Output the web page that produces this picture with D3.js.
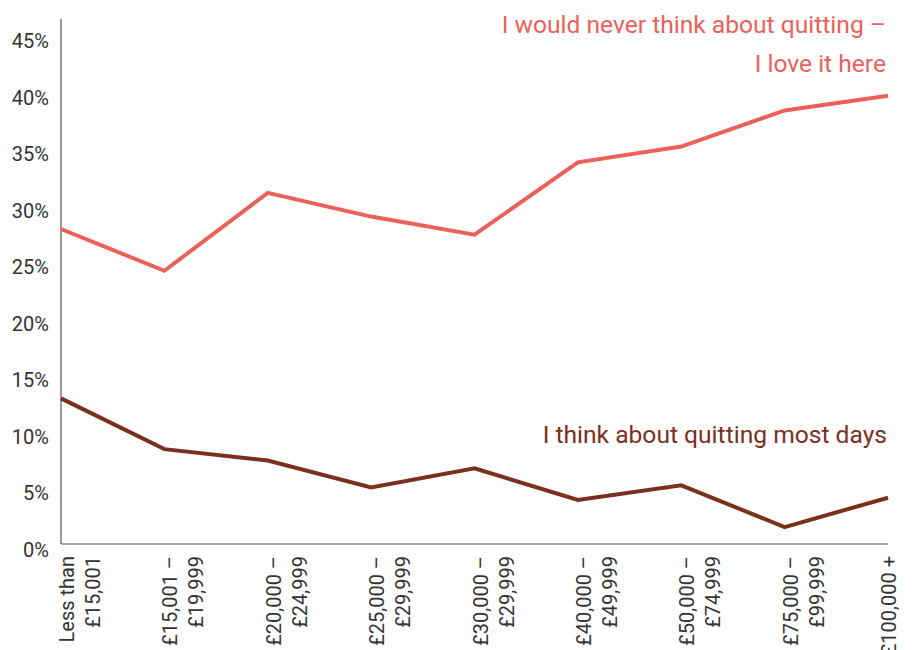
<!DOCTYPE html>
<html>
<head>
<meta charset="utf-8">
<script src="https://cdn.jsdelivr.net/npm/d3@7"></script>
<style>
  body { margin: 0; background: #fff; }
  text { font-family: Roboto, "Noto Sans", sans-serif; }
  .tick text { fill: #333; }
</style>
</head>
<body>
<div id="chart"></div>
<script>
// salary bands (x categories), split into label lines
var bands = [
  ["Less than", "£15,001"],
  ["£15,001 –", "£19,999"],
  ["£20,000 –", "£24,999"],
  ["£25,000 –", "£29,999"],
  ["£30,000 –", "£29,999"],
  ["£40,000 –", "£49,999"],
  ["£50,000 –", "£74,999"],
  ["£75,000 –", "£99,999"],
  ["£100,000 +"]
];

// % of respondents
var neverQuit = [27.9, 24.2, 31.1, 29.0, 27.4, 33.8, 35.2, 38.4, 39.7];
var quitMostDays = [12.9, 8.4, 7.4, 5.0, 6.7, 3.9, 5.2, 1.5, 4.1];

var yTicks = [0, 5, 10, 15, 20, 25, 30, 35, 40, 45];

var seriesNames = ["I would never think about quitting –\nI love it here", "I think about quitting most days"];
var seriesColors = ["#ec605a", "#7a301c"];

var margin = { top: 19, right: 26, bottom: 106, left: 61 },
  width = 914 - margin.left - margin.right,
  height = 650 - margin.top - margin.bottom;

var svg = d3.select("#chart").append("svg")
  .attr("width", 914)
  .attr("height", 650)
  .append("g")
  .attr("transform", "translate(" + margin.left + "," + margin.top + ")");

var x = d3.scalePoint().domain(d3.range(bands.length)).range([0, width]);
var y = d3.scaleLinear().domain([0, 46.5]).range([height, 0]);

// axes (just the two lines + labels)
svg.append("line")
  .attr("x1", 0).attr("x2", 0).attr("y1", 0).attr("y2", height)
  .attr("stroke", "#555").attr("stroke-width", 1.2);
svg.append("line")
  .attr("x1", 0).attr("x2", width).attr("y1", height).attr("y2", height)
  .attr("stroke", "#555").attr("stroke-width", 1.2);

var yAxis = svg.append("g")
  .call(d3.axisLeft(y).tickValues(yTicks).tickSize(0).tickPadding(12).tickFormat(function (d) { return d + "%"; }));
yAxis.select(".domain").remove();
yAxis.selectAll("text")
  .attr("dy", "0.6em")
  .style("font-size", "20px");

var xLabels = svg.append("g")
  .attr("transform", "translate(0," + (height + 12) + ")");

bands.forEach(function (lines, i) {
  var g = xLabels.append("g")
    .attr("transform", "translate(" + x(i) + ",0) rotate(-90)");
  lines.forEach(function (t, j) {
    var off = lines.length > 1 ? 13 + j * 26 : 8;
    g.append("text")
      .attr("x", 0)
      .attr("y", off)
      .attr("text-anchor", "end")
      .style("font-size", "20px")
      .attr("fill", "#333")
      .text(t);
  });
});

var line = d3.line()
  .x(function (d, i) { return x(i); })
  .y(function (d) { return y(d); });

[neverQuit, quitMostDays].forEach(function (vals, k) {
  svg.append("path")
    .datum(vals)
    .attr("fill", "none")
    .attr("stroke", seriesColors[k])
    .attr("stroke-width", 4)
    .attr("stroke-linejoin", "miter")
    .attr("d", line);
});

// series labels
var lbl1 = svg.append("text")
  .attr("text-anchor", "end")
  .attr("fill", seriesColors[0])
  .style("font-size", "24.6px");
seriesNames[0].split("\n").forEach(function (t, j) {
  lbl1.append("tspan")
    .attr("x", width - 2)
    .attr("y", 33 - margin.top + j * 39)
    .text(t);
});

svg.append("text")
  .attr("x", width - 1)
  .attr("y", 443 - margin.top)
  .attr("text-anchor", "end")
  .attr("fill", seriesColors[1])
  .style("font-size", "24.6px")
  .text(seriesNames[1]);
</script>
</body>
</html>
